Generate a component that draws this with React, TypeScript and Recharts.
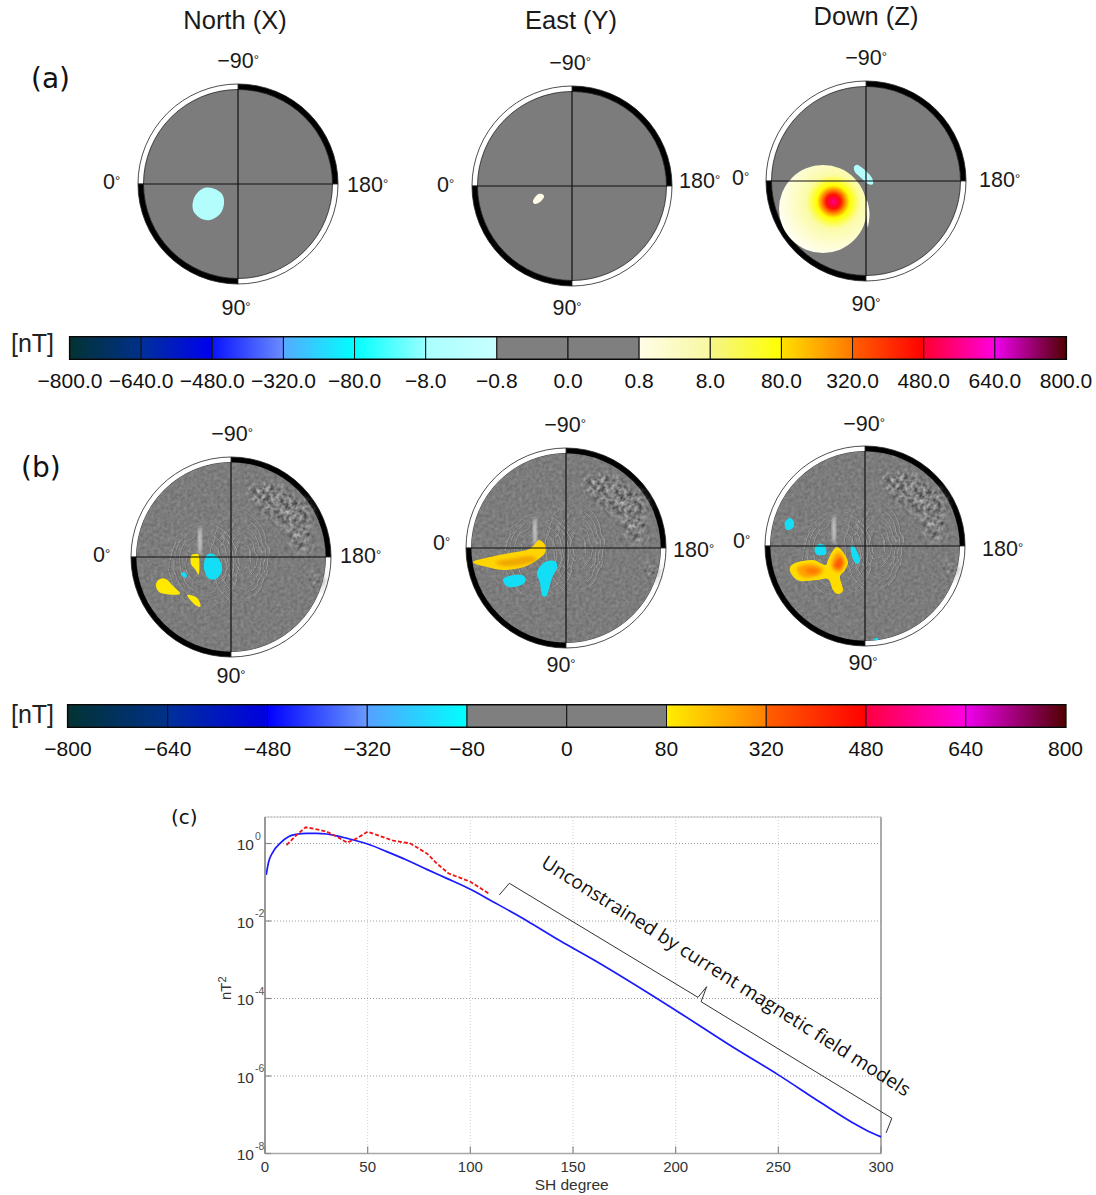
import React from "react";
import {
  BarChart, Bar, XAxis, YAxis, PieChart, Pie, Cell, ScatterChart, Scatter,
  ReferenceLine, ReferenceArea, LineChart, Line, CartesianGrid,
} from "recharts";

// ---------- spectrum (c) ----------
const modelDegrees = [0.6, 1.6, 4, 7.3, 11.4, 15.4, 20.3, 25.2, 30, 35, 40, 45, 50, 59.3, 69, 78.8, 88.5, 100, 111, 127.5, 143.7, 160, 199, 228, 250, 271, 286.6, 294, 300];
const modelPower = [0.154, 0.309, 0.617, 1.01, 1.5, 1.73, 1.83, 1.83, 1.76, 1.58, 1.36, 1.16, 0.97, 0.617, 0.375, 0.215, 0.126, 0.0661, 0.0316, 0.0102, 0.00309, 1e-3, 5.37e-5, 5.5e-6, 1.07e-6, 2e-7, 6.03e-8, 3.7e-8, 2.69e-8];
const observedDegrees = [10.5, 15.4, 19.8, 25.2, 30, 35, 40, 44.7, 50, 56, 62.5, 70.6, 78.8, 83.6, 89.3, 100, 109.6];
const observedPower = [0.914, 1.66, 2.62, 2.32, 2.02, 1.5, 1.05, 1.36, 2.02, 1.56, 1.18, 1.01, 0.557, 0.309, 0.17, 0.103, 0.049];
const bracketDegrees = [114.1, 119, 210.9, 215.1, 212.4, 305.3, 302.5];
const bracketPower = [0.0469, 0.094, 1.07e-4, 2.02e-4, 8.26e-5, 8.13e-8, 3.39e-8];
const xTicks = [0, 50, 100, 150, 200, 250, 300];
const yTicks = [1e-8, 1e-6, 1e-4, 1e-2, 1];
const yExponents: Record<string, string> = { "1e-8": "-8", "0.000001": "-6", "0.0001": "-4", "0.01": "-2", "1": "0" };

const modelRows = modelDegrees.map((d, i) => ({ d, p: modelPower[i] }));
const observedRows = observedDegrees.map((d, i) => ({ d, p: observedPower[i] }));
const bracketRows = bracketDegrees.map((d, i) => ({ d, p: bracketPower[i] }));

// ---------- colour bars ----------
const barALabels = ["−800.0", "−640.0", "−480.0", "−320.0", "−80.0", "−8.0", "−0.8", "0.0", "0.8", "8.0", "80.0", "320.0", "480.0", "640.0", "800.0"];
const barAColours = [
  ["#033333", "#00308a"], ["#00309a", "#0000f0"], ["#0a14ff", "#6a8cff"], ["#55aaff", "#00ffff"], ["#00ffff", "#99ffff"], ["#aaffff", "#c8ffff"],
  ["#7f7f7f", "#7f7f7f"], ["#7f7f7f", "#7f7f7f"], ["#fffde8", "#f8f8a0"], ["#f5f58a", "#ffff00"], ["#ffe000", "#ff7800"], ["#ff6000", "#ff0000"], ["#ff0030", "#ff00e0"], ["#f000f0", "#500000"],
];
const barBLabels = ["−800", "−640", "−480", "−320", "−80", "0", "80", "320", "480", "640", "800"];
const barBColours = [
  ["#033333", "#00308a"], ["#00309a", "#0000e0"], ["#0000ff", "#6a9aff"], ["#55a0ff", "#00ffff"], ["#7f7f7f", "#7f7f7f"], ["#7f7f7f", "#7f7f7f"],
  ["#ffee00", "#ff8000"], ["#ff6000", "#ff0000"], ["#ff0040", "#ff00e0"], ["#f000f0", "#500000"],
];

// ---------- disc maps: outlines in map units, rim at 100 ----------
type Blob = { pts: number[][]; fill: string; soft?: boolean };
const CY = "#14def5", YE = "#ffea00", PALE = "#b4fdfd", CREAM = "#fffde6";
const blobsNorthA: Blob[] = [{ fill: PALE, pts: [[-44, 14], [-36, 5], [-26, 4], [-16, 10], [-14, 20], [-18, 30], [-28, 36], [-38, 34], [-45, 26]] }];
const blobsEastA: Blob[] = [{ fill: CREAM, pts: [[-39, 15], [-35, 9], [-30, 8], [-28, 11], [-32, 16], [-37, 18]] }];
const blobsDownA: Blob[] = [
  { fill: PALE, pts: [[-12, -14], [-8, -16], [0, -10], [6, -3], [7, 3], [2, 3], [-6, -4], [-11, -9]] },
  { fill: CREAM, pts: [[1, 20], [3.5, 32], [2, 46], [1, 40]] },
];
const blobsNorthB: Blob[] = [
  { fill: YE, pts: [[-40, -1], [-36, -3], [-32, -1], [-32, 17], [-36, 12], [-40, 7]] },
  { fill: CY, pts: [[-25, -1], [-18, -3], [-11, 4], [-9, 14], [-15, 22], [-23, 21], [-27, 11]] },
  { fill: CY, pts: [[-50, 17], [-47, 15], [-44, 18], [-46, 21]] },
  { fill: YE, pts: [[-71, 22], [-65, 22], [-58, 29], [-51, 37], [-66, 37], [-73, 34], [-75, 27]] },
  { fill: YE, pts: [[-44, 38], [-35, 40], [-31, 46], [-31, 50], [-37, 47]] },
];
const blobsEastB: Blob[] = [
  { fill: "#ffd400", pts: [[-93, 14], [-76, 9], [-56, 5], [-39, 2], [-32, -3], [-27, -8], [-21, -3], [-21, 5], [-29, 12], [-42, 19], [-62, 22], [-79, 19]] },
  { fill: "#f0a800", soft: true, pts: [[-70, 14], [-50, 10], [-35, 8], [-30, 12], [-45, 17], [-62, 18]] },
  { fill: CY, pts: [[-62, 30], [-52, 27], [-42, 28], [-41, 34], [-47, 38], [-57, 39], [-62, 35]] },
  { fill: CY, pts: [[-29, 24], [-21, 14], [-11, 13], [-9, 20], [-14, 30], [-19, 47], [-24, 47], [-26, 35]] },
];
const blobsDownB: Blob[] = [
  { fill: CY, pts: [[-80, -24], [-75, -28], [-71, -24], [-72, -18], [-78, -16], [-80, -20]] },
  { fill: CY, pts: [[-50, 1], [-45, -2], [-40, 0], [-39, 8], [-47, 9], [-50, 6]] },
  { fill: CY, pts: [[-14, -1], [-10, 2], [-5, 13], [-8, 18], [-12, 13], [-14, 6]] },
  { fill: "#ffdc00", pts: [[-75, 21], [-67, 16], [-52, 14], [-40, 19], [-37, 14], [-33, 6], [-28, 1], [-22, 6], [-17, 16], [-20, 24], [-25, 31], [-22, 44], [-27, 48], [-32, 44], [-37, 33], [-48, 34], [-65, 35], [-73, 29]] },
  { fill: "#ffa000", soft: true, pts: [[-68, 22], [-55, 18], [-42, 23], [-48, 30], [-62, 31]] },
  { fill: "#ff7a00", soft: true, pts: [[-60, 23], [-50, 22], [-46, 26], [-55, 28]] },
  { fill: "#ffa000", soft: true, pts: [[-32, 12], [-26, 6], [-20, 16], [-25, 26], [-33, 22]] },
  { fill: "#ff5a00", soft: true, pts: [[-29, 15], [-25, 11], [-22, 17], [-26, 23], [-31, 20]] },
  { fill: CY, pts: [[9, 93], [13, 92], [13, 94], [10, 94.5]] },
];
// relief ripples and rough patches of the (b) background: x, y, rx, ry
const rippleEllipses = [[12, 0, 8, 14], [12, 0, 13, 22], [12, 0, 18, 30], [11, 0, 23, 38], [9, 0, 29, 45], [-27, 6, 18, 22], [-27, 6, 24, 30], [-27, 6, 30, 36], [-27, 8, 35, 42]];
const roughPatches = [[45, -55, 20, 18], [65, -40, 18, 20], [70, -15, 13, 14], [28, -66, 15, 10], [85, 24, 8, 9]];
const hotSpot = [{ x: -43, y: 28, r: 44 }];
const ringData = [{ v: 1, c: "#000" }, { v: 1, c: "#fff" }, { v: 1, c: "#000" }, { v: 1, c: "#fff" }];
const origin = [{ x: 0, y: 0 }];

const smoothPath = (pts: number[][], ox: number, oy: number) => {
  const n = pts.length;
  const P = (i: number) => { const p = pts[(i + n) % n]; return [p[0] - ox, p[1] - oy]; };
  let d = `M${P(0)[0]},${P(0)[1]}`;
  for (let i = 0; i < n; i++) {
    const [p0, p1, p2, p3] = [P(i - 1), P(i), P(i + 1), P(i + 2)];
    d += `C${p1[0] + (p2[0] - p0[0]) / 6},${p1[1] + (p2[1] - p0[1]) / 6} ${p2[0] - (p3[0] - p1[0]) / 6},${p2[1] - (p3[1] - p1[1]) / 6} ${p2[0]},${p2[1]}`;
  }
  return d + "Z";
};

const BlobShape = (props: any) => {
  const { cx, cy, payload } = props;
  return <path transform={`translate(${cx},${cy})`} d={smoothPath(payload.pts, payload.x, payload.y)} fill={payload.fill} filter={payload.soft ? "url(#softBlur)" : undefined} />;
};
const HotShape = (props: any) => <circle cx={props.cx} cy={props.cy} r={props.payload.r} fill="url(#hotGrad)" />;
const TextureShape = (props: any) => <circle cx={props.cx} cy={props.cy} r={94.5} fill="#000" filter="url(#reliefNoise)" />;
const PatchShape = (props: any) => <ellipse cx={props.cx} cy={props.cy} rx={props.payload.rx} ry={props.payload.ry} fill="#000" filter="url(#roughNoise)" opacity={0.6} />;
const RippleShape = (props: any) => (
  <g filter="url(#wobble)">
    <ellipse cx={props.cx} cy={props.cy} rx={props.payload.rx} ry={props.payload.ry} fill="none" stroke="#a8a8a8" strokeWidth={0.7} />
    <ellipse cx={props.cx + 1} cy={props.cy} rx={props.payload.rx} ry={props.payload.ry} fill="none" stroke="#606060" strokeWidth={0.5} />
  </g>
);
const StreakShape = (props: any) => <ellipse cx={props.cx} cy={props.cy} rx={1.6} ry={15} fill="#d8d8d8" filter="url(#softBlur)" />;
const NoShape = () => <g />;

const HALF = 110;
const Disc = ({ cx, cy, blobs, relief, hot }: { cx: number; cy: number; blobs: Blob[]; relief?: boolean; hot?: boolean }) => {
  const box: React.CSSProperties = { position: "absolute", left: cx - HALF, top: cy - HALF };
  const axes = [
    <XAxis key="x" type="number" dataKey="x" domain={[-HALF, HALF]} hide />,
    <YAxis key="y" type="number" dataKey="y" domain={[-HALF, HALF]} reversed hide />,
  ];
  const blobRows = blobs.map((b) => ({ x: b.pts[0][0], y: b.pts[0][1], pts: b.pts, fill: b.fill, soft: b.soft }));
  return (
    <>
      <div style={box}>
        <PieChart width={HALF * 2} height={HALF * 2} margin={{ top: 0, right: 0, bottom: 0, left: 0 }}>
          <Pie data={[{ v: 1 }]} dataKey="v" cx={HALF} cy={HALF} outerRadius={95} innerRadius={0} fill="#7c7c7c" stroke="none" isAnimationActive={false} />
          <Pie data={ringData} dataKey="v" cx={HALF} cy={HALF} innerRadius={94.5} outerRadius={100} startAngle={0} endAngle={360} stroke="#222" strokeWidth={0.8} isAnimationActive={false}>
            {ringData.map((r, i) => <Cell key={i} fill={r.c} />)}
          </Pie>
        </PieChart>
      </div>
      <div style={box}>
        <ScatterChart width={HALF * 2} height={HALF * 2} margin={{ top: 0, right: 0, bottom: 0, left: 0 }}>
          {axes}
          {relief && <Scatter data={origin} shape={TextureShape} isAnimationActive={false} />}
          {relief && <Scatter data={roughPatches.map(([x, y, rx, ry]) => ({ x, y, rx, ry }))} shape={PatchShape} isAnimationActive={false} />}
          {relief && <Scatter data={rippleEllipses.map(([x, y, rx, ry]) => ({ x, y, rx, ry }))} shape={RippleShape} isAnimationActive={false} />}
          {relief && <Scatter data={[{ x: -31, y: -16 }]} shape={StreakShape} isAnimationActive={false} />}
          {hot && <Scatter data={hotSpot} shape={HotShape} isAnimationActive={false} />}
          <Scatter data={blobRows} shape={BlobShape} isAnimationActive={false} />
        </ScatterChart>
      </div>
      <div style={box}>
        <ScatterChart width={HALF * 2} height={HALF * 2} margin={{ top: 0, right: 0, bottom: 0, left: 0 }}>
          {axes}
          <Scatter data={origin} shape={NoShape} isAnimationActive={false} />
          <ReferenceLine segment={[{ x: -95, y: 0 }, { x: 95, y: 0 }]} stroke="#111" strokeWidth={1.2} ifOverflow="visible" />
          <ReferenceLine segment={[{ x: 0, y: -95 }, { x: 0, y: 95 }]} stroke="#111" strokeWidth={1.2} ifOverflow="visible" />
        </ScatterChart>
      </div>
    </>
  );
};

const ColourBar = ({ top, left, right, barHeight, labels, colours, prefix }: { top: number; left: number; right: number; barHeight: number; labels: string[]; colours: string[][]; prefix: string }) => {
  const row: Record<string, number | string> = { name: "nT" };
  colours.forEach((_, i) => { row[`s${i}`] = 1; });
  return (
    <div style={{ position: "absolute", left: 0, top: top - 6 }}>
      <BarChart width={1096} height={barHeight + 6 + 38} layout="vertical" data={[row]} barCategoryGap={0} margin={{ top: 6, right: 1096 - right, bottom: 0, left }}>
        <defs>
          {colours.map((c, i) => (
            <linearGradient key={i} id={`${prefix}${i}`} x1="0" x2="1" y1="0" y2="0">
              <stop offset="0" stopColor={c[0]} />
              <stop offset="1" stopColor={c[1]} />
            </linearGradient>
          ))}
        </defs>
        <XAxis type="number" domain={[0, colours.length]} ticks={labels.map((_, i) => i)} interval={0} tickFormatter={(i: number) => labels[i]} axisLine={false} tickLine={false} tickMargin={8} height={38} tick={{ fontSize: 21, fill: "#111", fontFamily: "Liberation Sans" }} />
        <YAxis type="category" dataKey="name" hide />
        {colours.map((_, i) => <Bar key={i} dataKey={`s${i}`} stackId="bar" fill={`url(#${prefix}${i})`} stroke="#111" strokeWidth={1} isAnimationActive={false} />)}
        <ReferenceArea x1={0} x2={colours.length} fill="none" stroke="#000" strokeWidth={2.2} />
      </BarChart>
    </div>
  );
};

const XTick = (props: any) => {
  const { x, y, payload } = props;
  return (
    <g>
      <line x1={x} x2={x} y1={y} y2={y - 7} stroke="#888" strokeWidth={1.2} />
      <text x={x} y={y + 18.5} textAnchor="middle" fontSize={15} fill="#333" fontFamily="Liberation Sans">{payload.value}</text>
    </g>
  );
};
const YTick = (props: any) => {
  const { x, y, payload } = props;
  return (
    <g>
      <line x1={x} x2={x + 6} y1={y} y2={y} stroke="#888" strokeWidth={1.2} />
      <text x={x - 11} y={y + 6.5} textAnchor="end" fontSize={15.5} fill="#333" fontFamily="Liberation Sans">10</text>
      <text x={x - 10} y={y - 4} fontSize={10.5} fill="#555" fontFamily="Liberation Sans">{yExponents[String(payload.value)] ?? ""}</text>
    </g>
  );
};

const DEG = ({ x, y, text, anchor = "middle" }: { x: number; y: number; text: string; anchor?: string }) => (
  <text x={x} y={y} textAnchor={anchor as any} fontSize={21.5} fill="#1a1a1a" fontFamily="Liberation Sans">
    {text}
    <tspan fontSize={13} dy={-4}>°</tspan>
  </text>
);

const degreeLabels: [number, number, string, string][] = [
  [238, 68, "−90", "middle"], [103, 189, "0", "start"], [347, 192, "180", "start"], [236, 315, "90", "middle"],
  [570, 69.5, "−90", "middle"], [437, 192, "0", "start"], [679, 188, "180", "start"], [567, 315, "90", "middle"],
  [866, 65, "−90", "middle"], [732, 185, "0", "start"], [979, 187, "180", "start"], [866, 311, "90", "middle"],
  [232, 441, "−90", "middle"], [93, 562, "0", "start"], [340, 563, "180", "start"], [231, 683, "90", "middle"],
  [565, 432, "−90", "middle"], [433, 550, "0", "start"], [673, 557, "180", "start"], [561, 672, "90", "middle"],
  [864, 431, "−90", "middle"], [733, 548, "0", "start"], [982, 556, "180", "start"], [863, 670, "90", "middle"],
];
const titles: [number, number, string][] = [[235, 29, "North (X)"], [571, 29, "East (Y)"], [866, 24.5, "Down (Z)"]];

const Y_DOMAIN: [number, number] = [1e-8, 4.83];

export default function App() {
  return (
    <div style={{ position: "absolute", left: 0, top: 0, width: 1096, height: 1195, background: "#fff", overflow: "hidden" }}>
      <svg width={0} height={0} style={{ position: "absolute" }}>
        <defs>
          <radialGradient id="hotGrad" cx="0.617" cy="0.417" r="0.62">
            <stop offset="0" stopColor="#ff0090" />
            <stop offset="0.055" stopColor="#ff0050" />
            <stop offset="0.13" stopColor="#ff1000" />
            <stop offset="0.22" stopColor="#ff9000" />
            <stop offset="0.3" stopColor="#ffff00" />
            <stop offset="0.5" stopColor="#fbfba8" />
            <stop offset="1" stopColor="#fffef0" />
          </radialGradient>
          <filter id="softBlur" x="-30%" y="-30%" width="160%" height="160%" colorInterpolationFilters="sRGB"><feGaussianBlur stdDeviation="1.4" /></filter>
          <filter id="reliefNoise" x="0" y="0" width="1" height="1" colorInterpolationFilters="sRGB">
            <feTurbulence type="fractalNoise" baseFrequency="0.3" numOctaves="2" seed="4" />
            <feColorMatrix type="matrix" values="0.18 0 0 0 0.395  0.18 0 0 0 0.395  0.18 0 0 0 0.395  0 0 0 0 1" />
            <feGaussianBlur stdDeviation="0.4" />
            <feComposite in2="SourceAlpha" operator="in" />
          </filter>
          <filter id="roughNoise" x="-20%" y="-20%" width="140%" height="140%" colorInterpolationFilters="sRGB">
            <feGaussianBlur in="SourceAlpha" stdDeviation="4" result="soft" />
            <feTurbulence type="fractalNoise" baseFrequency="0.22" numOctaves="2" seed="9" />
            <feColorMatrix type="matrix" values="1.1 0 0 0 -0.05  1.1 0 0 0 -0.05  1.1 0 0 0 -0.05  0 0 0 0 1" />
            <feComposite in2="soft" operator="in" />
          </filter>
          <filter id="wobble" x="-20%" y="-20%" width="140%" height="140%" colorInterpolationFilters="sRGB">
            <feTurbulence type="fractalNoise" baseFrequency="0.07" numOctaves="2" seed="3" result="n" />
            <feDisplacementMap in="SourceGraphic" in2="n" scale="7" />
          </filter>
        </defs>
      </svg>

      <Disc cx={238.3} cy={184} blobs={blobsNorthA} />
      <Disc cx={571.7} cy={185.5} blobs={blobsEastA} />
      <Disc cx={866} cy={181} blobs={blobsDownA} hot />
      <Disc cx={231.3} cy={556.5} blobs={blobsNorthB} relief />
      <Disc cx={565.7} cy={548} blobs={blobsEastB} relief />
      <Disc cx={865.3} cy={546} blobs={blobsDownB} relief />

      <ColourBar top={337} left={70} right={1066} barHeight={22} labels={barALabels} colours={barAColours} prefix="barA" />
      <ColourBar top={705} left={68} right={1065.5} barHeight={22} labels={barBLabels} colours={barBColours} prefix="barB" />

      <div style={{ position: "absolute", left: 205, top: 810 }}>
        <LineChart width={696} height={385.5} margin={{ top: 7, right: 20, bottom: 0, left: 0 }}>
          <CartesianGrid horizontal vertical={false} stroke="#9a9a9a" strokeDasharray="1 2" />
          <CartesianGrid horizontal={false} vertical stroke="#cfcfcf" strokeDasharray="1 2" />
          <XAxis type="number" dataKey="d" domain={[0, 300]} ticks={xTicks} interval={0} height={42} tickSize={0} tickMargin={0} tickLine={false} axisLine={{ stroke: "#a8a8a8", strokeWidth: 1.6 }} tick={XTick} />
          <YAxis type="number" scale="log" dataKey="p" domain={Y_DOMAIN} ticks={yTicks} interval={0} width={60} tickSize={0} tickMargin={0} tickLine={false} axisLine={{ stroke: "#999", strokeWidth: 2 }} tick={YTick} />
          <ReferenceLine x={300} stroke="#999" strokeWidth={1.6} />
          <ReferenceLine y={4.83} stroke="#c8c8c8" strokeWidth={1} />
          <Line data={modelRows} dataKey="p" type="monotone" stroke="#1a1aff" strokeWidth={1.7} dot={false} isAnimationActive={false} />
          <Line data={observedRows} dataKey="p" type="linear" stroke="#f01515" strokeWidth={1.8} strokeDasharray="4 2" dot={false} isAnimationActive={false} />
        </LineChart>
      </div>
      <div style={{ position: "absolute", left: 265, top: 817 }}>
        <LineChart width={636.5} height={336.5} margin={{ top: 0, right: 0, bottom: 0, left: 0 }}>
          <XAxis type="number" dataKey="d" domain={[0, 310]} hide />
          <YAxis type="number" scale="log" dataKey="p" domain={Y_DOMAIN} hide />
          <Line data={bracketRows} dataKey="p" type="linear" stroke="#333" strokeWidth={1} dot={false} isAnimationActive={false} />
        </LineChart>
      </div>

      <svg width={1096} height={1195} style={{ position: "absolute", left: 0, top: 0, pointerEvents: "none" }}>
        {titles.map(([x, y, t]) => <text key={t} x={x} y={y} textAnchor="middle" fontSize={25.5} fill="#1a1a1a" fontFamily="Liberation Sans">{t}</text>)}
        {degreeLabels.map(([x, y, t, a], i) => <DEG key={i} x={x} y={y} text={t} anchor={a} />)}
        <text x={31} y={88} fontSize={28} fill="#111" fontFamily="DejaVu Sans">(a)</text>
        <text x={21} y={477} fontSize={28} fill="#111" fontFamily="DejaVu Sans">(b)</text>
        <text x={171} y={824} fontSize={20} fill="#111" fontFamily="DejaVu Sans">(c)</text>
        <text x={11} y={352} fontSize={25} fill="#222" fontFamily="Liberation Sans">[nT]</text>
        <text x={11} y={723} fontSize={25} fill="#222" fontFamily="Liberation Sans">[nT]</text>
        <text x={571.7} y={1190} textAnchor="middle" fontSize={15.5} fill="#333" fontFamily="Liberation Sans">SH degree</text>
        <text transform="translate(231,1000) rotate(-90)" fontSize={15} fill="#333" fontFamily="Liberation Sans">nT<tspan fontSize={11} dy={-5}>2</tspan></text>
        <text transform="translate(540,866) rotate(32.3)" fontSize={19} fill="#111" fontFamily="Open Sans" textLength={432} lengthAdjust="spacingAndGlyphs">Unconstrained by current magnetic field models</text>
      </svg>
    </div>
  );
}
